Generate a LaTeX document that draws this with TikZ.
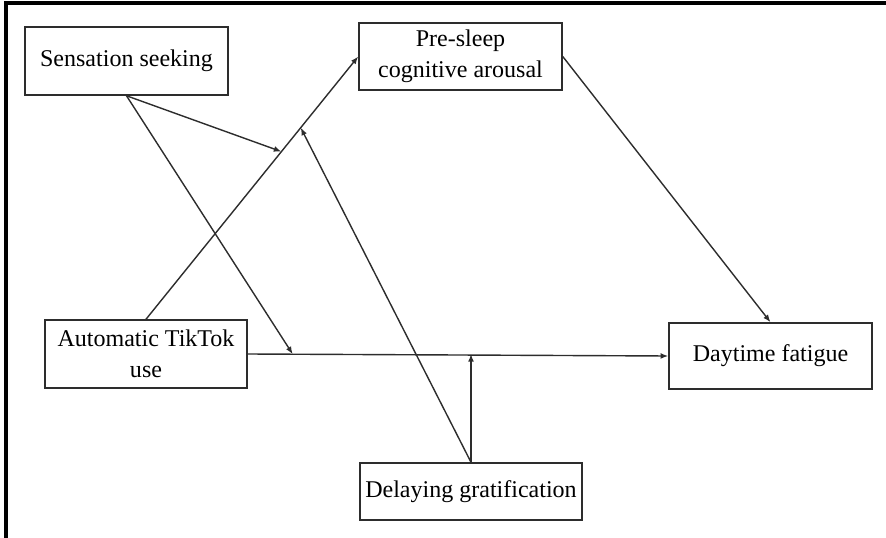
\documentclass[tikz,border=0pt]{standalone}
\usepackage{fontspec}
\setmainfont{Liberation Serif}
\usetikzlibrary{arrows.meta}
\begin{document}
\begin{tikzpicture}[x=0.03cm, y=-0.03cm, every node/.style={font=\fontsize{20.5}{26.5}\selectfont}]
			% Define colors
			\definecolor{linegray}{RGB}{45, 45, 45}

			% Styles
			\tikzstyle{var_box} = [draw=linegray, line width=1.3pt, fill=white, text=black, align=center, inner sep=0pt]
			\tikzstyle{path_arrow} = [draw=linegray, line width=1.2pt, -{Latex[length=6.5pt, width=5pt]}]
			\tikzstyle{frame_line} = [draw=black, line width=2.6pt]

			% Canvas
			\useasboundingbox (0, 0) rectangle (886, 538);
			\draw[frame_line] (6, 538) -- (6, 3) -- (886, 3);

			% Variable boxes
			\node[var_box, minimum width=203*0.03cm, minimum height=68*0.03cm] (seek) at (126.5, 61) {Sensation seeking};
			\node[var_box, minimum width=203*0.03cm, minimum height=67*0.03cm] (arousal) at (460.5, 56.5) {Pre-sleep\\cognitive arousal};
			\node[var_box, minimum width=202*0.03cm, minimum height=68*0.03cm] (tiktok) at (146, 354) {Automatic TikTok\\use};
			\node[var_box, minimum width=203*0.03cm, minimum height=66*0.03cm] (fatigue) at (770.5, 356) {Daytime fatigue};
			\node[var_box, minimum width=222*0.03cm, minimum height=57*0.03cm] (delay) at (471, 491.5) {Delaying gratification};

			% Points on the paths where the moderators act
			\path (tiktok.north) -- (arousal.west) coordinate[pos=0.638] (seekmod) coordinate[pos=0.729] (delaymod);
			\path (tiktok.east) -- (fatigue.west) coordinate[pos=0.107] (seekdir);
			\coordinate (delaydir) at (delay.north |- tiktok.east);

			% Main paths
			\draw[path_arrow] (tiktok.north) -- (arousal.west);
			\draw[path_arrow] (arousal.east) -- (fatigue.north);
			\draw[path_arrow] (tiktok.east) -- (fatigue.west);

			% Moderation paths
			\draw[path_arrow] (seek.south) -- (seekmod);
			\draw[path_arrow] (seek.south) -- (seekdir);
			\draw[path_arrow] (delay.north) -- (delaymod);
			\draw[path_arrow] (delay.north) -- (delaydir);

		\end{tikzpicture}
\end{document}
